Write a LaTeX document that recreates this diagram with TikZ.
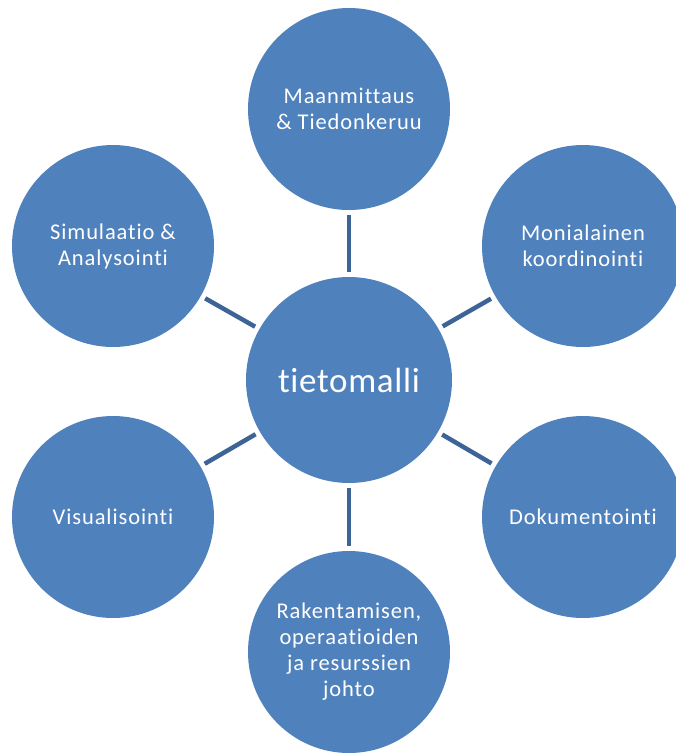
\documentclass[tikz,border=0pt]{standalone}
\usepackage{fontspec}
\setmainfont[Ligatures={NoCommon}, LetterSpace=4]{Carlito}
\definecolor{hubfill}{HTML}{4F81BD}
\definecolor{spoke}{HTML}{3C6496}
\tikzset{
  bubble/.style={circle, fill=hubfill, inner sep=0pt, outer sep=0pt, minimum size=202pt,
    text=white, align=center, font=\fontsize{22.5}{26}\selectfont},
  hub/.style={bubble, minimum size=206pt, font=\fontsize{35}{40}\selectfont\addfontfeature{LetterSpace=2}},
  link/.style={draw=spoke, line width=4.5pt, shorten <=5pt, shorten >=5pt}
}
\begin{document}
\begin{tikzpicture}[x=1pt, y=-1pt]
\useasboundingbox (0,0) rectangle (676,753);
\clip (0,0) rectangle (676,753);
\node[hub] (c) at (349,380) {tietomalli};
\node[bubble] (t) at (349,109) {Maanmittaus\\\& Tiedonkeruu};
\node[bubble] (tr) at (583,246) {Monialainen\\koordinointi};
\node[bubble] (br) at (583,517) {Dokumentointi};
\node[bubble] (b) at (349,652) {Rakentamisen,\\operaatioiden\\ja resurssien\\johto};
\node[bubble] (bl) at (113,517) {Visualisointi};
\node[bubble] (tl) at (113,246) {Simulaatio \&\\Analysointi};
\draw[link] (c) -- (t);
\draw[link] (c) -- (tr);
\draw[link] (c) -- (br);
\draw[link] (c) -- (b);
\draw[link] (c) -- (bl);
\draw[link] (c) -- (tl);
\end{tikzpicture}
\end{document}
